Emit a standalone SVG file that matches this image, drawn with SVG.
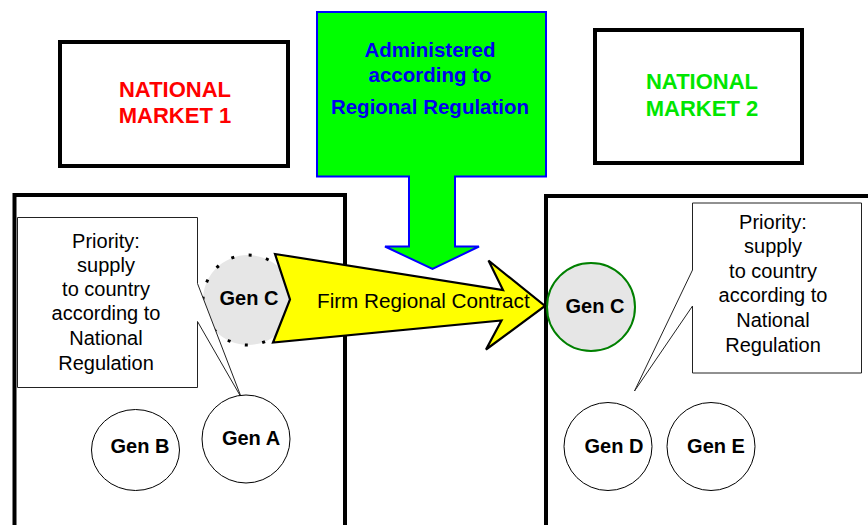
<svg xmlns="http://www.w3.org/2000/svg" width="868" height="525" viewBox="0 0 868 525">
<style>
  text { font-family: "Liberation Sans", Arial, sans-serif; }
  .mkt { fill: #fff; stroke: #000; stroke-width: 4; }
  .mkttxt { font-size: 22px; font-weight: bold; text-anchor: middle; }
  .zone { fill: none; stroke: #000; stroke-width: 4; }
  .callout { fill: #fff; stroke: #222; stroke-width: 1; }
  .ctxt { font-size: 20px; text-anchor: middle; fill: #000; }
  .gen { fill: #fff; stroke: #000; stroke-width: 1; }
  .gtxt { font-size: 20px; font-weight: bold; text-anchor: middle; fill: #000; }
  .admin { font-size: 20.5px; font-weight: bold; text-anchor: middle; fill: #0000ee; }
</style>
<rect width="868" height="525" fill="#fff"/>

<g id="market1">
  <rect class="mkt" x="60" y="42" width="228" height="124"/>
  <text class="mkttxt" x="175" y="97" fill="#ff0000">NATIONAL</text>
  <text class="mkttxt" x="175" y="123" fill="#ff0000">MARKET 1</text>
</g>

<g id="market2">
  <rect class="mkt" x="595" y="30" width="207" height="133"/>
  <text class="mkttxt" x="702" y="89" fill="#00e600">NATIONAL</text>
  <text class="mkttxt" x="702" y="116" fill="#00e600">MARKET 2</text>
</g>

<g id="zone1">
  <rect class="zone" x="14.5" y="195" width="330.5" height="345"/>
</g>
<g id="zone2">
  <rect class="zone" x="546" y="196" width="340" height="345"/>
</g>

<g id="regulation">
  <path d="M317,12 H546 V176.5 H455 V246.5 H479 L432.5,269 L385,246.5 H409 V176.5 H317 Z" fill="#00ff00" stroke="#0000ff" stroke-width="2"/>
  <text class="admin" x="430" y="57">Administered</text>
  <text class="admin" x="430" y="82">according to</text>
  <text class="admin" x="430" y="114">Regional Regulation</text>
</g>

<g id="genC1">
  <circle cx="248" cy="300" r="45" fill="#e6e6e6" stroke="#000" stroke-width="3" stroke-dasharray="3 14.7"/>
  <text class="gtxt" x="249" y="305">Gen C</text>
</g>

<g id="callout1">
  <path class="callout" d="M17.5,217.5 H197.5 V283.5 L241.5,398 L197.5,321.5 V387.5 H17.5 Z"/>
  <text class="ctxt" x="106" y="248">Priority:</text>
  <text class="ctxt" x="106" y="272">supply</text>
  <text class="ctxt" x="106" y="296">to country</text>
  <text class="ctxt" x="106" y="320">according to</text>
  <text class="ctxt" x="106" y="345">National</text>
  <text class="ctxt" x="106" y="370">Regulation</text>
</g>

<g id="genB">
  <ellipse class="gen" cx="135.5" cy="450" rx="44" ry="40.5"/>
  <text class="gtxt" x="140" y="453">Gen B</text>
</g>
<g id="genA">
  <ellipse class="gen" cx="246" cy="439" rx="44" ry="44"/>
  <text class="gtxt" x="251" y="445">Gen A</text>
</g>

<g id="genC2">
  <circle cx="591" cy="307" r="44" fill="#e6e6e6" stroke="#008000" stroke-width="2"/>
  <text class="gtxt" x="595" y="313">Gen C</text>
</g>

<g id="callout2">
  <path class="callout" d="M692.5,203 H861.5 V373 H692.5 V306 L634.5,391 L692.5,270 Z"/>
  <text class="ctxt" x="773" y="229">Priority:</text>
  <text class="ctxt" x="773" y="253">supply</text>
  <text class="ctxt" x="773" y="278">to country</text>
  <text class="ctxt" x="773" y="302">according to</text>
  <text class="ctxt" x="773" y="327">National</text>
  <text class="ctxt" x="773" y="352">Regulation</text>
</g>

<g id="genD">
  <circle class="gen" cx="608" cy="446.5" r="44"/>
  <text class="gtxt" x="614" y="453">Gen D</text>
</g>
<g id="genE">
  <circle class="gen" cx="711" cy="446.5" r="44"/>
  <text class="gtxt" x="716" y="453">Gen E</text>
</g>

<g id="connectors">
  <g id="contract">
    <path d="M275,254 L503,290 L488.5,260.5 L545,306 L486,349.5 L501.5,320.5 L273,342.5 L290,299.5 Z" fill="#ffff00" stroke="#000" stroke-width="2.2" stroke-linejoin="miter"/>
    <text x="317" y="308" font-size="20.7" fill="#000">Firm Regional Contract</text>
  </g>
</g>
</svg>
